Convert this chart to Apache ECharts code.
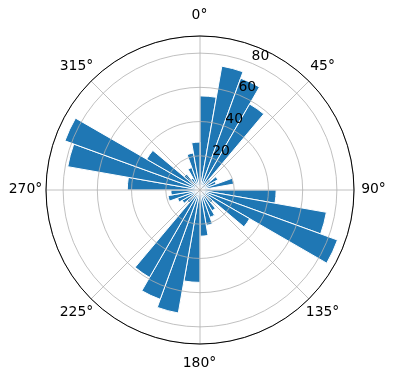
<!DOCTYPE html>
<html><head><meta charset="utf-8">
<script src="https://cdn.jsdelivr.net/npm/echarts@6/dist/echarts.min.js"></script>
<style>html,body{margin:0;padding:0;background:#fff}#c{width:396px;height:380px}</style>
</head><body><div id="c"></div>
<script>
// bin start angles (degrees, clockwise from north), 10° bins
const binStarts = [0,10,20,30,40,50,60,70,80,90,100,110,120,130,140,150,160,170,
                   180,190,200,210,220,230,240,250,260,270,280,290,300,310,320,330,340,350];
// bar heights per bin
const counts = [55,73.5,69.5,58,8,12,10,20,6,
                44.5,75,85.5,33.5,10,14,17,21,27,
                54,73,68,59,10,12,14,19,17,
                42.5,78.5,84,36,12,8,14,22,28];
const angleTicks = [0,45,90,135,180,225,270,315];
const angleTickLabels = ['0°','45°','90°','135°','180°','225°','270°','315°'];
const radialTicks = [20,40,60,80];
const radialTickLabels = ['20','40','60','80'];
const rMax = 90;
const rLabelAngle = 22.5;

const C = [200,190], R = 154;
const FS = 13.9, FF = 'DejaVu Sans';
const chart = echarts.init(document.getElementById('c'), null, {renderer:'canvas'});
const hiddenAxis = {axisLine:{show:false}, axisTick:{show:false}, axisLabel:{show:false}, splitLine:{show:false}};
const labelStyle = {show:true, color:'#000', fontSize:FS, fontFamily:FF,
  textBorderWidth:0, textBorderColor:'transparent', textShadowBlur:0, opacity:1,
  align:'center', verticalAlign:'middle'};
chart.setOption({
  animation:false,
  backgroundColor:'#fff',
  polar:[{center:C, radius:R},{center:C, radius:R},{center:C, radius:R},{center:C, radius:R+20}],
  angleAxis:[
    Object.assign({polarIndex:0, type:'category', data:binStarts, startAngle:90, clockwise:true, boundaryGap:true}, hiddenAxis),
    {polarIndex:1, type:'value', min:0, max:360, interval:45, startAngle:90, clockwise:true, z:5,
     axisLine:{show:true, lineStyle:{color:'#000', width:1}},
     axisTick:{show:false}, axisLabel:{show:false},
     splitLine:{show:true, lineStyle:{color:'#b0b0b0', width:0.8}}},
    Object.assign({polarIndex:2, type:'value', min:0, max:360, startAngle:90, clockwise:true}, hiddenAxis),
    Object.assign({polarIndex:3, type:'value', min:0, max:360, startAngle:90, clockwise:true}, hiddenAxis)
  ],
  radiusAxis:[
    Object.assign({polarIndex:0, type:'value', min:0, max:rMax}, hiddenAxis),
    {polarIndex:1, type:'value', min:0, max:rMax, interval:20, z:5,
     axisLine:{show:false}, axisTick:{show:false}, axisLabel:{show:false},
     splitLine:{show:true, lineStyle:{color:'#b0b0b0', width:0.8}}},
    Object.assign({polarIndex:2, type:'value', min:0, max:rMax}, hiddenAxis),
    Object.assign({polarIndex:3, type:'value', min:0, max:1}, hiddenAxis)
  ],
  series:[{
    type:'bar', coordinateSystem:'polar', polarIndex:0, data:counts,
    barCategoryGap:'0%', z:2,
    itemStyle:{color:'#1f77b4', borderColor:'#fff', borderWidth:1}
  },{
    type:'scatter', coordinateSystem:'polar', polarIndex:2, z:10, silent:true,
    data: radialTicks.map(v => [v, rLabelAngle]),
    symbolSize:1, itemStyle:{color:'#fff', opacity:0},
    label:Object.assign({position:[0,0], offset:[8.5,-6.8],
      formatter:p => radialTickLabels[p.dataIndex]}, labelStyle),
    emphasis:{disabled:true}
  },{
    type:'scatter', coordinateSystem:'polar', polarIndex:3, z:10, silent:true,
    data: angleTicks.map(a => [1, a]),
    symbolSize:1, itemStyle:{color:'#fff', opacity:0},
    label:Object.assign({position:[0,0],
      formatter:p => angleTickLabels[p.dataIndex]}, labelStyle),
    emphasis:{disabled:true}
  }]
});
</script></body></html>
